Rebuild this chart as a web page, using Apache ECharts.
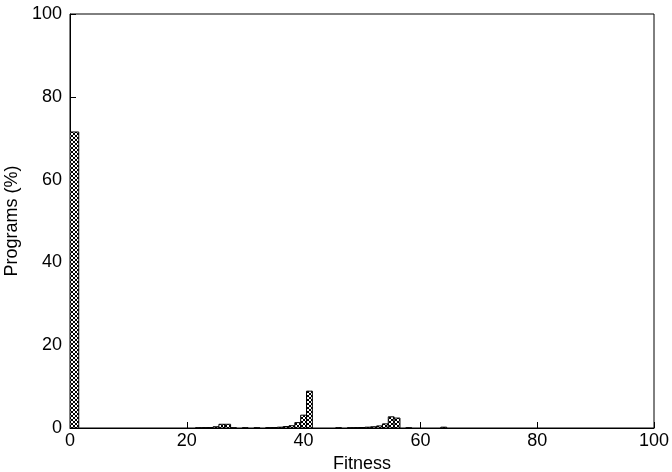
<!DOCTYPE html>
<html>
<head>
<meta charset="utf-8">
<script src="https://cdn.jsdelivr.net/npm/echarts@6/dist/echarts.min.js"></script>
<style>
  html, body { margin: 0; padding: 0; background: #fff; }
  #chart { width: 672px; height: 472px; }
</style>
</head>
<body>
<div id="chart"></div>
<script>
// histogram bins (fitness), edges and share of programs (%)
const binStart = [0, 21.5, 22.5, 23.5, 24.5, 25.5, 26.5, 27.5, 29.5, 31.5, 33.5, 34.5, 35.5, 36.5, 37.5, 38.5, 39.5, 40.5,
  45.5, 47.5, 48.5, 49.5, 50.5, 51.5, 52.5, 53.5, 54.5, 55.5, 57.5, 63.5]
const binEnd = [1.5, 22.5, 23.5, 24.5, 25.5, 26.5, 27.5, 28.5, 30.5, 32.5, 34.5, 35.5, 36.5, 37.5, 38.5, 39.5, 40.5, 41.5,
  46.5, 48.5, 49.5, 50.5, 51.5, 52.5, 53.5, 54.5, 55.5, 56.5, 58.5, 64.5]
const programs = [71.5, 0.05, 0.08, 0.1, 0.3, 0.9, 0.9, 0.05, 0.05, 0.05, 0.08, 0.1, 0.2, 0.35, 0.55, 1.3, 3.1, 8.9,
  0.05, 0.05, 0.08, 0.12, 0.2, 0.3, 0.5, 1.0, 2.7, 2.4, 0.05, 0.2]

const xTicks = [0, 20, 40, 60, 80, 100]
const yTicks = [0, 20, 40, 60, 80, 100]

const chart = echarts.init(document.getElementById('chart'))

// crosshatch fill like the printed figure
function hatch() {
  const c = document.createElement('canvas')
  c.width = 4
  c.height = 4
  const ctx = c.getContext('2d')
  ctx.fillStyle = '#fff'
  ctx.fillRect(0, 0, 4, 4)
  ctx.fillStyle = '#000'
  for (let i = 0; i < 4; i++) {
    ctx.fillRect(i, i, 1, 1)
    ctx.fillRect(3 - i, i, 1, 1)
  }
  return c
}
const pattern = { image: hatch(), repeat: 'repeat' }

const data = programs.map((v, i) => [binStart[i], binEnd[i], v])
const font = 'Liberation Sans, Arial, sans-serif'

chart.setOption({
  animation: false,
  grid: {
    left: 70, right: 18, top: 14, bottom: 44,
    outerBoundsMode: 'none',
    show: true, borderColor: '#000', borderWidth: 1
  },
  xAxis: {
    type: 'value',
    min: xTicks[0], max: xTicks[xTicks.length - 1], interval: 20,
    name: 'Fitness', nameLocation: 'middle', nameGap: 26,
    nameTextStyle: { color: '#000', fontSize: 18, fontFamily: font },
    axisLine: { lineStyle: { color: '#000', width: 1 } },
    axisTick: { inside: true, length: 6, lineStyle: { color: '#000' } },
    axisLabel: { color: '#000', fontSize: 18, fontFamily: font, margin: 4 },
    splitLine: { show: false }
  },
  yAxis: {
    type: 'value',
    min: yTicks[0], max: yTicks[yTicks.length - 1], interval: 20,
    name: 'Programs (%)', nameLocation: 'middle', nameGap: 44,
    nameTextStyle: { color: '#000', fontSize: 18, fontFamily: font },
    axisLine: { show: true, lineStyle: { color: '#000', width: 1 } },
    axisTick: { show: true, inside: true, length: 6, lineStyle: { color: '#000' } },
    axisLabel: { color: '#000', fontSize: 18, fontFamily: font, margin: 8 },
    splitLine: { show: false }
  },
  series: [{
    type: 'custom',
    clip: true,
    data: data,
    encode: { x: [0, 1], y: 2 },
    renderItem: function (params, api) {
      const p0 = api.coord([api.value(0), api.value(2)])
      const p1 = api.coord([api.value(1), 0])
      return {
        type: 'rect',
        shape: { x: p0[0], y: p0[1], width: p1[0] - p0[0], height: p1[1] - p0[1] },
        style: { fill: pattern, stroke: '#000', lineWidth: 1 }
      }
    }
  }]
})
</script>
</body>
</html>
